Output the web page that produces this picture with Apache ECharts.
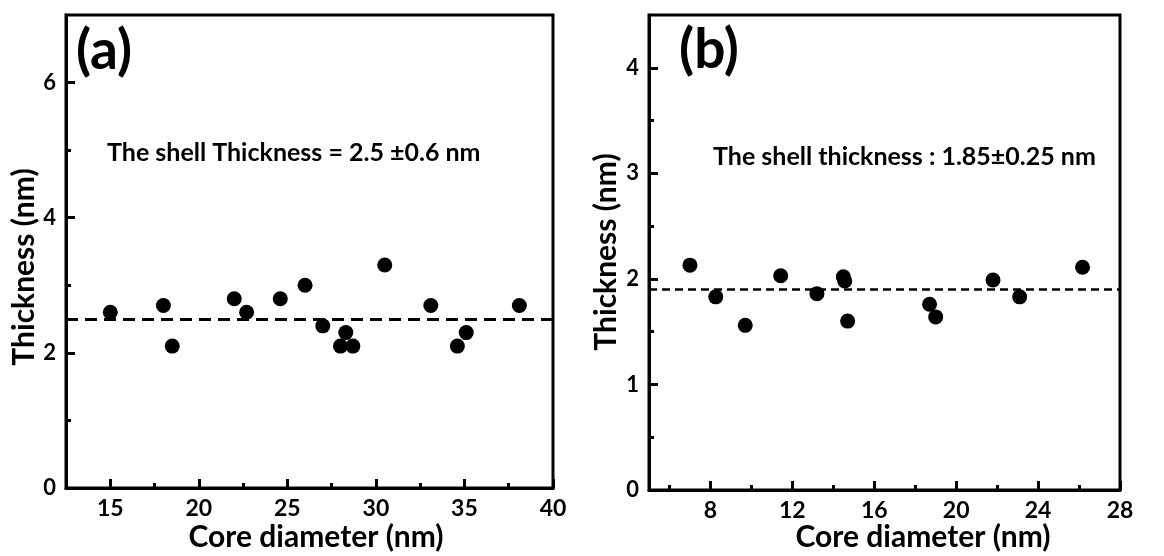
<!DOCTYPE html>
<html>
<head>
<meta charset="utf-8">
<script src="https://cdn.jsdelivr.net/npm/echarts@6/dist/echarts.min.js"></script>
<style>
html,body{margin:0;padding:0;background:#fff;}
#chart{width:1164px;height:556px;}
</style>
</head>
<body>
<div id="chart"></div>
<script>
// ---------- Data ----------
// Panel (a)
const coreA = [15.0, 18.0, 18.5, 22.0, 22.7, 24.6, 26.0, 27.0, 28.0, 28.3, 28.7, 30.5, 33.1, 34.6, 35.1, 38.1];
const thickA = [2.6, 2.7, 2.1, 2.8, 2.6, 2.8, 3.0, 2.4, 2.1, 2.3, 2.1, 3.3, 2.7, 2.1, 2.3, 2.7];
const meanA = 2.5;
const xLabelsA = [15, 20, 25, 30, 35, 40];
const xMinorA = [17.5, 22.5, 27.5, 32.5, 37.5];
const yLabelsA = [0, 2, 4, 6];
const yMinorA = [1, 3, 5];
const noteA = 'The shell Thickness = 2.5 \u00b10.6 nm';

// Panel (b)
const coreB = [7.0, 8.26, 9.7, 11.43, 13.2, 14.49, 14.56, 14.7, 18.7, 19.0, 21.8, 23.1, 26.17];
const thickB = [2.13, 1.83, 1.56, 2.03, 1.86, 2.02, 1.98, 1.60, 1.76, 1.64, 1.99, 1.83, 2.11];
const meanB = 1.9;
const xLabelsB = [8, 12, 16, 20, 24, 28];
const xMinorB = [6, 10, 14, 18, 22, 26];
const yLabelsB = [0, 1, 2, 3, 4];
const yMinorB = [0.5, 1.5, 2.5, 3.5];
const noteB = 'The shell thickness : 1.85\u00b10.25 nm';

const xTitle = 'Core diameter (nm)';
const yTitle = 'Thickness (nm)';

// ---------- Chart ----------
const FONT = 'Lato';
const chart = echarts.init(document.getElementById('chart'), null, {renderer: 'canvas'});

const grids = [
  {left: 66, top: 15, width: 487, height: 473},
  {left: 649, top: 15, width: 471, height: 475}
];

function majorX(grid, min, max, labels) {
  return {
    type: 'value', gridIndex: grid, min: min, max: max, position: 'bottom',
    splitLine: {show: false},
    axisLine: {show: true, lineStyle: {color: '#000', width: 3}},
    axisTick: {show: true, inside: true, length: 9, lineStyle: {color: '#000', width: 3}, customValues: labels},
    axisLabel: {show: true, color: '#000', fontFamily: FONT, fontWeight: 'bold', fontSize: 23, margin: 9, customValues: labels}
  };
}
function minorX(grid, min, max, ticks) {
  return {
    type: 'value', gridIndex: grid, min: min, max: max, position: 'bottom', offset: 0,
    splitLine: {show: false},
    axisLine: {show: false},
    axisTick: {show: true, inside: true, length: 5, lineStyle: {color: '#000', width: 3}, customValues: ticks},
    axisLabel: {show: false}
  };
}
function majorY(grid, min, max, labels) {
  return {
    type: 'value', gridIndex: grid, min: min, max: max, position: 'left',
    splitLine: {show: false},
    axisLine: {show: true, lineStyle: {color: '#000', width: 3}},
    axisTick: {show: true, inside: true, length: 9, lineStyle: {color: '#000', width: 3}, customValues: labels},
    axisLabel: {show: true, color: '#000', fontFamily: FONT, fontWeight: 'bold', fontSize: 22, margin: 10, customValues: labels}
  };
}
function minorY(grid, min, max, ticks) {
  return {
    type: 'value', gridIndex: grid, min: min, max: max, position: 'left', offset: 0,
    splitLine: {show: false},
    axisLine: {show: false},
    axisTick: {show: true, inside: true, length: 5, lineStyle: {color: '#000', width: 3}, customValues: ticks},
    axisLabel: {show: false}
  };
}

function scatter(xIdx, yIdx, xs, ys, mean, dash, dw) {
  return {
    type: 'scatter', xAxisIndex: xIdx, yAxisIndex: yIdx,
    data: xs.map((x, i) => [x, ys[i]]),
    symbol: 'circle', symbolSize: 15,
    itemStyle: {color: '#000', opacity: 1},
    z: 3,
    markLine: {
      silent: true, symbol: ['none', 'none'],
      label: {show: false},
      lineStyle: {color: '#000', width: dw, type: dash, opacity: 1},
      data: [{yAxis: mean}]
    }
  };
}

const option = {
  backgroundColor: '#fff',
  animation: false,
  grid: grids.map(g => Object.assign({show: true, borderColor: '#000', borderWidth: 3, backgroundColor: 'transparent', containLabel: false}, g)),
  xAxis: [
    majorX(0, 12.5, 40, xLabelsA), minorX(0, 12.5, 40, xMinorA),
    majorX(1, 5, 28, xLabelsB), minorX(1, 5, 28, xMinorB)
  ],
  yAxis: [
    majorY(0, 0, 7, yLabelsA), minorY(0, 0, 7, yMinorA),
    majorY(1, 0, 4.5, yLabelsB), minorY(1, 0, 4.5, yMinorB)
  ],
  series: [
    scatter(0, 0, coreA, thickA, meanA, [12, 7], 3),
    scatter(2, 2, coreB, thickB, meanB, [8, 5], 2.5)
  ],
  graphic: [
    {type: 'text', x: 104, y: 51, style: {text: '(a)', font: 'bold 55px ' + FONT, fill: '#000', align: 'center', verticalAlign: 'middle'}},
    {type: 'text', x: 709, y: 50, style: {text: '(b)', font: 'bold 55px ' + FONT, fill: '#000', align: 'center', verticalAlign: 'middle'}},
    {type: 'text', x: 107, y: 153, style: {text: noteA, font: 'bold 25px ' + FONT, fill: '#000', align: 'left', verticalAlign: 'middle'}},
    {type: 'text', x: 713, y: 157, style: {text: noteB, font: 'bold 25px ' + FONT, fill: '#000', align: 'left', verticalAlign: 'middle'}},
    {type: 'text', x: 316, y: 537, style: {text: xTitle, font: 'bold 30px ' + FONT, fill: '#000', align: 'center', verticalAlign: 'middle'}},
    {type: 'text', x: 923, y: 537, style: {text: xTitle, font: 'bold 30px ' + FONT, fill: '#000', align: 'center', verticalAlign: 'middle'}},
    {type: 'text', x: 24, y: 267, rotation: Math.PI / 2, style: {text: yTitle, font: 'bold 30px ' + FONT, fill: '#000', align: 'center', verticalAlign: 'middle'}},
    {type: 'text', x: 606, y: 252, rotation: Math.PI / 2, style: {text: yTitle, font: 'bold 30px ' + FONT, fill: '#000', align: 'center', verticalAlign: 'middle'}}
  ]
};
chart.setOption(option);
</script>
</body>
</html>
